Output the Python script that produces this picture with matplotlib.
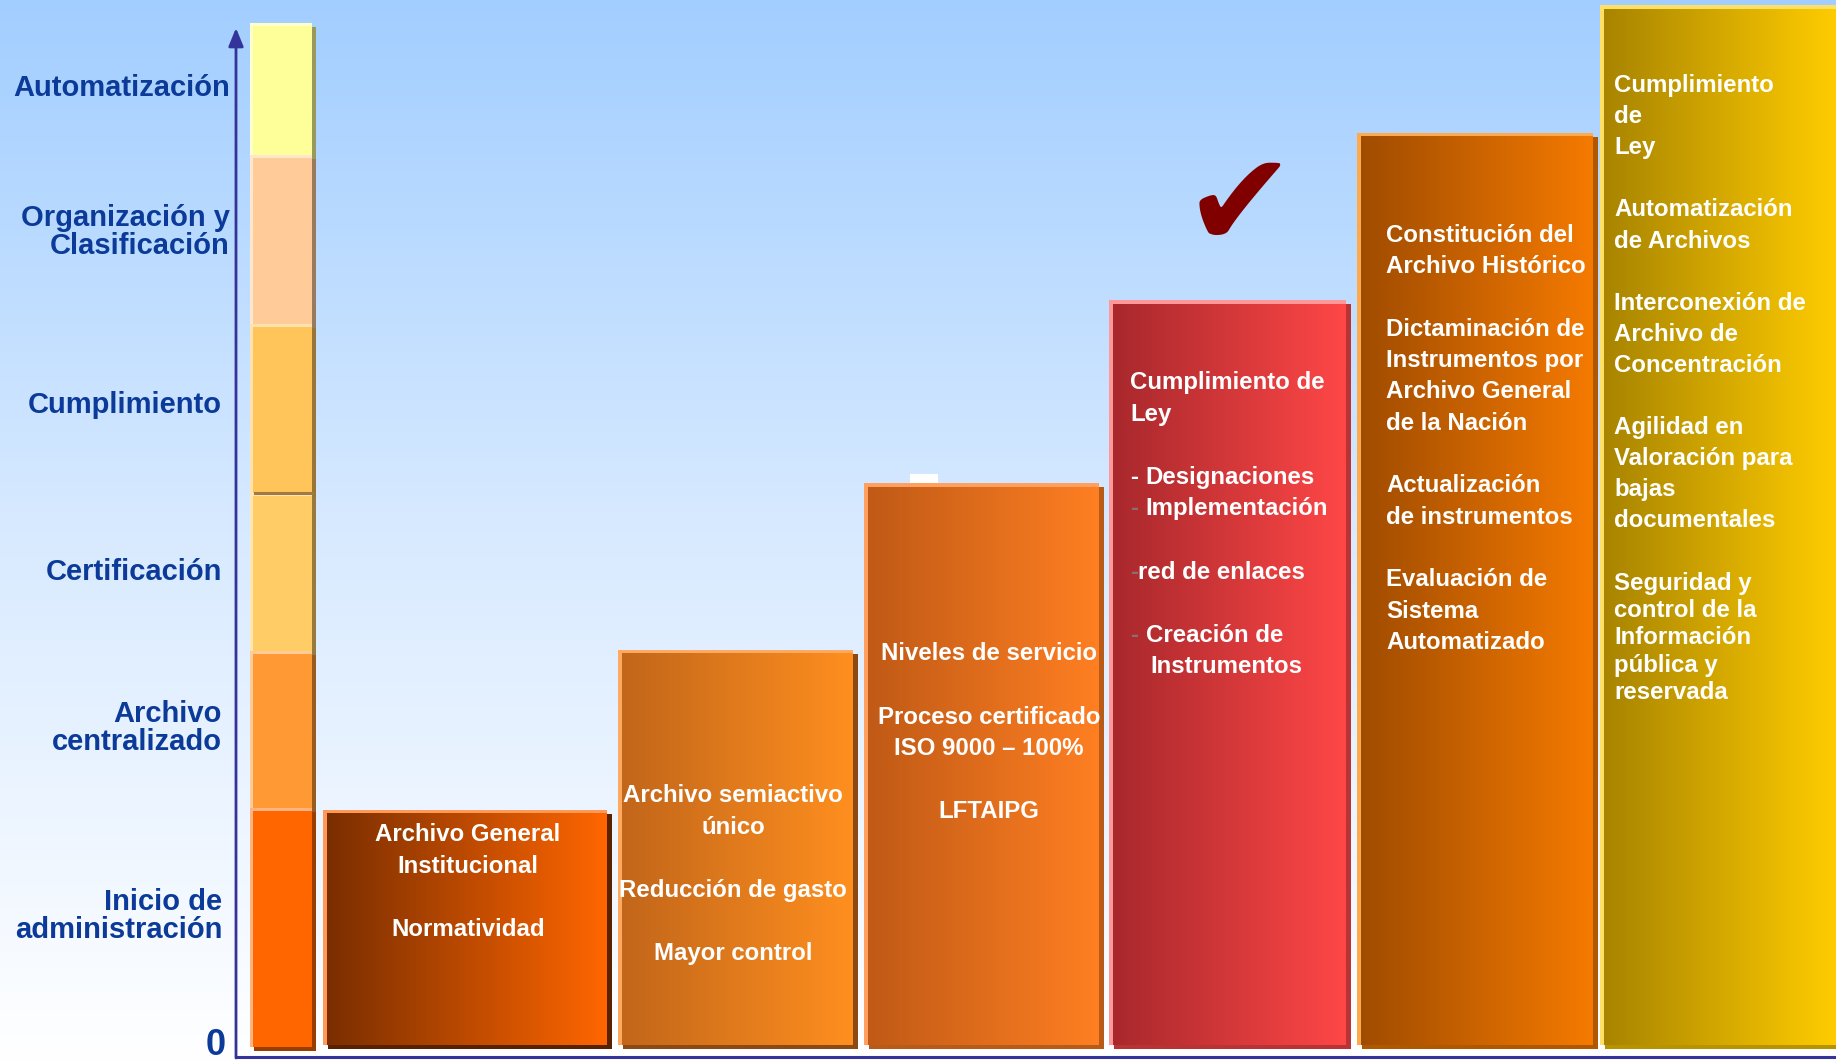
import numpy as np
import matplotlib
matplotlib.use("Agg")
import matplotlib.pyplot as plt
from matplotlib.colors import LinearSegmentedColormap, to_rgb
from matplotlib.patches import Rectangle

plt.rcParams['font.family'] = ['Liberation Sans', 'DejaVu Sans']

W, H = 1836, 1064

# escala de madurez (0 = base, 100 = tope)
etapas = ['Inicio de\nadministración', 'Archivo\ncentralizado', 'Certificación',
          'Cumplimiento', 'Organización y\nClasificación', 'Automatización']
etapas_tope = [22.8, 37.9, 53.1, 69.3, 85.6, 98.3]
etapas_color = ['#FF6600', '#FF9933', '#FFCC66', '#FFC55A', '#FFCC99', '#FFFF99']

nivel = [22.6, 38.0, 54.0, 71.6, 87.7, 100.0]

textos = [
    ["Archivo General", "Institucional", "", "Normatividad"],
    ["Archivo semiactivo", "único", "", "Reducción de gasto", "", "Mayor control"],
    ["Niveles de servicio", "", "Proceso certificado", "ISO 9000 – 100%", "", "LFTAIPG"],
    ["Cumplimiento de", "Ley", "", "- Designaciones", "- Implementación", "",
     "-red de enlaces", "", "- Creación de", "  Instrumentos"],
    ["Constitución del", "Archivo Histórico", "", "Dictaminación de", "Instrumentos por",
     "Archivo General", "de la Nación", "", "Actualización", "de instrumentos", "",
     "Evaluación de", "Sistema", "Automatizado"],
    ["Cumplimiento", "de", "Ley", "", "Automatización", "de Archivos", "",
     "Interconexión de", "Archivo de", "Concentración", "", "Agilidad en",
     "Valoración para", "bajas", "documentales"],
]
texto_extra = ["Seguridad y", "control de la", "Información", "pública y", "reservada"]

grad_izq = ['#7A2E00', '#C2661A', '#C05A16', '#A8282C', '#A04C00', '#A88400']
grad_der = ['#FF6600', '#FF8F1F', '#FF7F22', '#FF4747', '#F57A00', '#FFCC00']
borde = ['#FF9955', '#FFAA60', '#FFA060', '#FF9999', '#FFA94D', '#FFE066']

# layout (pixels)
bar_x = [323, 618, 864, 1109, 1357, 1600]
bar_ws = [284, 235, 235, 237, 236, 236]
base_px, top_px = 1045, 5
upx = (base_px - top_px) / 100.0   # pixels per unit
dy = 3.5                            # ajuste vertical del texto


def fx(x):
    return x / W


def fy(y):
    return 1 - (y + dy) / H


fig = plt.figure(figsize=(W / 100, H / 100), dpi=100)
ax = fig.add_axes([0, 0, 1, 1])
ax.set_axis_off()

ylo = (base_px - H) / upx
yhi = base_px / upx

# fondo degradado
bg = LinearSegmentedColormap.from_list('bg', ['#FFFFFF', '#D8EAFF', '#A2CEFF'])
ax.imshow(np.linspace(0, 1, 256).reshape(-1, 1), cmap=bg, origin='lower',
          extent=(0, W, ylo, yhi), aspect='auto', zorder=0)

# columna de etapas
col_x, col_w = 250, 62
prev = -0.2
for i, (top, c) in enumerate(zip(etapas_tope, etapas_color)):
    dark = tuple(v * 0.6 for v in to_rgb(c))
    light = tuple(v + (1 - v) * 0.5 for v in to_rgb(c))
    ax.bar(col_x + 4, top - prev, bottom=prev - 4 / upx, width=col_w, align='edge',
           color=dark, zorder=2, linewidth=0)
    ax.bar(col_x, top - prev, bottom=prev, width=col_w, align='edge',
           color=light, zorder=3, linewidth=0)
    ax.bar(col_x + 3, top - prev - 3 / upx, bottom=prev, width=col_w - 3, align='edge',
           color=c, zorder=4, linewidth=0)
    prev = top
# linea divisoria entre Certificación y Cumplimiento
ax.plot([col_x + 5, col_x + col_w], [etapas_tope[2]] * 2, color='#A07A40', lw=2.2, zorder=5)

# barras con degradado
grad = np.linspace(0, 1, 256).reshape(1, -1)
for i, h in enumerate(nivel):
    x0, w = bar_x[i], bar_ws[i]
    dark = tuple(v * 0.72 for v in to_rgb(grad_izq[i] if i < 2 else grad_der[i]))
    ax.bar(x0 + 5, h, bottom=-4 / upx, width=w, align='edge', color=dark, zorder=2, linewidth=0)
    ax.bar(x0, h, bottom=0, width=w, align='edge', color=borde[i], zorder=3, linewidth=0)
    cm = LinearSegmentedColormap.from_list('g%d' % i, [grad_izq[i], grad_der[i]])
    ax.imshow(grad, cmap=cm, extent=(x0 + 4, x0 + w, 0, h - 4 / upx),
              aspect='auto', interpolation='bilinear', zorder=4)

ax.set_xlim(0, W)
ax.set_ylim(ylo, yhi)

# ejes con flecha
axis_c = '#333399'
ax.annotate('', xy=(236 / W, 1 - 28 / H), xytext=(236 / W, 1 - 1058 / H),
            xycoords='figure fraction', textcoords='figure fraction',
            arrowprops=dict(arrowstyle='-|>,head_length=1.1,head_width=0.45',
                            color=axis_c, lw=2, shrinkA=0, shrinkB=0), zorder=6)
ax.plot([236, W], [(base_px - 1057) / upx] * 2, color=axis_c, lw=2.2, zorder=6,
        solid_capstyle='butt')

# etiquetas de etapas
lab_c = '#0B3A99'
lab_pos = [(222, 913), (222, 725), (222, 568), (222, 402), (230, 229), (230, 85)]
for lab, (lx, ly) in zip(etapas, lab_pos):
    lines = lab.split('\n')
    y0 = ly - (len(lines) - 1) * 28 / 2
    for k, ln in enumerate(lines):
        fig.text(fx(lx), fy(y0 + k * 28), ln, ha='right', va='center', fontsize=21,
                 fontweight='bold', color=lab_c)
fig.text(216 / W, 1 - 1055 / H, '0', ha='center', va='baseline', fontsize=26,
         fontweight='bold', color=lab_c)

# textos dentro de las barras
fs = 17.3
dim = '#8C6E6E'
centros = [468, 733, 989]
arranque = [831, 792, 650.5, 379, 232, 82]
paso = [31.6, 31.6, 31.6, 31.6, 31.3, 31.1]
for i, lines in enumerate(textos):
    for k, ln in enumerate(lines):
        if not ln:
            continue
        y = fy(arranque[i] + k * paso[i])
        if i < 3:
            fig.text(fx(centros[i]), y, ln, ha='center', va='center', fontsize=fs,
                     fontweight='bold', color='white')
        elif i == 3 and ln.startswith('  '):
            fig.text(fx(1150), y, ln.strip(), ha='left', va='center', fontsize=fs,
                     fontweight='bold', color='white')
        elif i == 3 and ln.startswith('-'):
            resto = ln[1:].strip()
            dcol = 'white' if 'Designaciones' in ln else dim
            fig.text(fx(1130), y, '-', ha='left', va='center', fontsize=fs,
                     fontweight='bold', color=dcol)
            off = 8 if ln[1] != ' ' else 15.5
            fig.text(fx(1130 + off), y, resto, ha='left', va='center', fontsize=fs,
                     fontweight='bold', color='white')
        else:
            lx = {3: 1130, 4: 1386, 5: 1614}[i]
            fig.text(fx(lx), y, ln, ha='left', va='center', fontsize=fs,
                     fontweight='bold', color='white')
for k, ln in enumerate(texto_extra):
    fig.text(fx(1614), fy(580 + k * 27.2), ln, ha='left', va='center', fontsize=fs,
             fontweight='bold', color='white')

# detalle blanco sobre la tercera barra y marca de verificación
fig.patches.append(Rectangle((910 / W, 1 - 483 / H), 28 / W, 9 / H, transform=fig.transFigure,
                             facecolor='white', edgecolor='none', zorder=5))
fig.text(fx(1239), fy(206), '✔', ha='center', va='center', fontsize=96,
         color='#800000', family='DejaVu Sans')

fig.savefig('out.png', dpi=100)
